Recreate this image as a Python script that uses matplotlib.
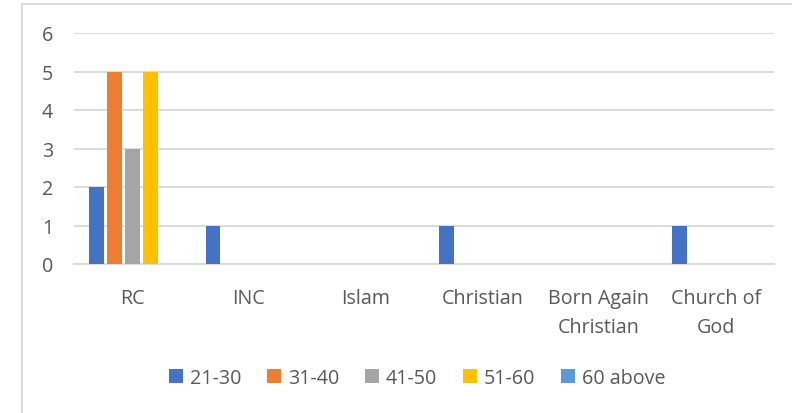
import numpy as np
import matplotlib
matplotlib.use('Agg')
from matplotlib import pyplot as plt
from matplotlib.patches import Patch
from matplotlib.lines import Line2D

categories = ['RC', 'INC', 'Islam', 'Christian', 'Born Again\nChristian', 'Church of\nGod']
series_names = ['21-30', '31-40', '41-50', '51-60', '60 above']
age_21_30 = [2, 1, 0, 1, 0, 1]
age_31_40 = [5, 0, 0, 0, 0, 0]
age_41_50 = [3, 0, 0, 0, 0, 0]
age_51_60 = [5, 0, 0, 0, 0, 0]
age_60_above = [0, 0, 0, 0, 0, 0]
colors = ['#4472C4', '#ED7D31', '#A5A5A5', '#FFC000', '#5B9BD5']

plt.rcParams['font.family'] = ['Open Sans', 'DejaVu Sans']
text_color = '#595959'
grid_color = '#D9D9D9'
fsize = 14.2

W, H = 792, 414
fig = plt.figure(figsize=(W / 100, H / 100), dpi=100)
ax = fig.add_axes([74 / W, 1 - 265 / H, 700 / W, 231 / H])

all_series = [age_21_30, age_31_40, age_41_50, age_51_60, age_60_above]
x = np.arange(len(categories))
step = 18 / 116.7
bar_w = 14.7 / 116.7
for i, (vals, col) in enumerate(zip(all_series, colors)):
    ax.bar(x + (i - 2) * step, vals, width=bar_w, color=col, zorder=3)

ax.set_xlim(-0.5, len(categories) - 0.5)
ax.set_ylim(0, 6)
ax.set_yticks(range(0, 7))
ax.yaxis.grid(True, color=grid_color, linewidth=1.3, zorder=0)
ax.set_axisbelow(True)
for s in ['top', 'right', 'left']:
    ax.spines[s].set_visible(False)
ax.spines['bottom'].set_color(grid_color)
ax.spines['bottom'].set_linewidth(1.3)
ax.set_xticks(x)
ax.set_xticklabels(categories, linespacing=1.6, va='top')
ax.tick_params(axis='both', length=0, colors=text_color, labelsize=fsize)
ax.tick_params(axis='y', pad=15)
ax.tick_params(axis='x', pad=17)

handles = [Patch(facecolor=c, edgecolor='none') for c in colors]
fig.legend(handles, series_names, loc='center', bbox_to_anchor=(417 / W, 1 - 379 / H),
           ncol=5, frameon=False, fontsize=fsize, handlelength=0.72, handleheight=0.72,
           handletextpad=0.35, columnspacing=1.3, labelcolor=text_color)

# chart frame (cropped on right and bottom)
fig.add_artist(Line2D([22 / W, 1], [1 - 5 / H, 1 - 5 / H], color=grid_color, linewidth=1.3,
                      transform=fig.transFigure))
fig.add_artist(Line2D([22 / W, 22 / W], [0, 1 - 5 / H], color=grid_color, linewidth=1.3,
                      transform=fig.transFigure))

fig.savefig('out.png', dpi=100)
